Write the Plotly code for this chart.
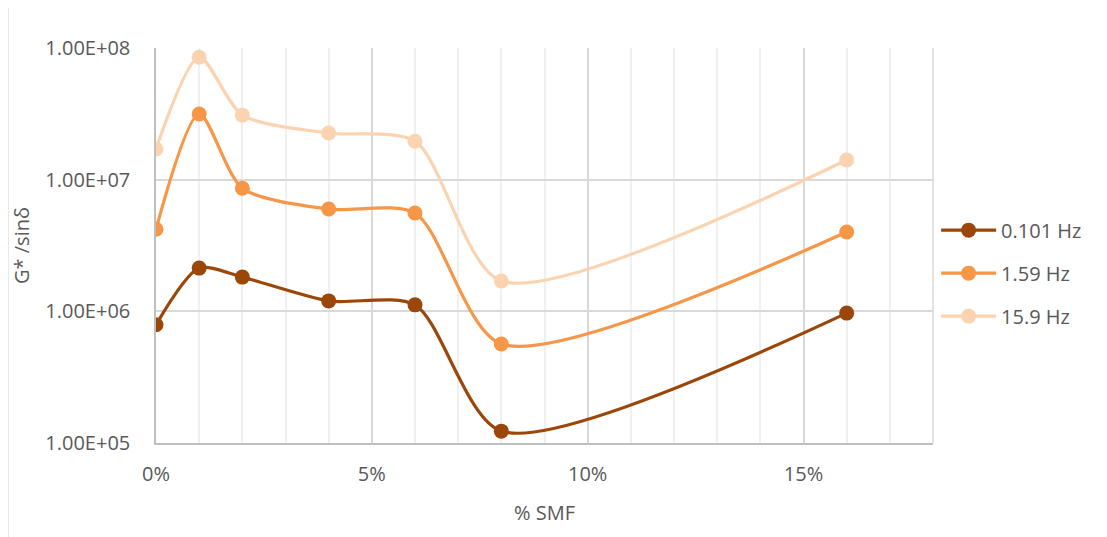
import plotly.graph_objects as go

smf = [0.00, 0.01, 0.02, 0.04, 0.06, 0.08, 0.16]
series_names = ["0.101 Hz", "1.59 Hz", "15.9 Hz"]
g_0101 = [7.9e5, 2.13e6, 1.82e6, 1.20e6, 1.12e6, 1.23e5, 9.7e5]
g_159 = [4.2e6, 3.15e7, 8.6e6, 5.98e6, 5.58e6, 5.65e5, 4.0e6]
g_159b = [1.71e7, 8.5e7, 3.09e7, 2.26e7, 1.96e7, 1.70e6, 1.41e7]
y_tickvals = [1e5, 1e6, 1e7, 1e8]
y_ticktext = ["1.00E+05", "1.00E+06", "1.00E+07", "1.00E+08"]
colors = ["#9A4709", "#F79646", "#FCD3B0"]

fig = go.Figure()
for name, vals, c in zip(series_names, [g_0101, g_159, g_159b], colors):
    fig.add_trace(go.Scatter(
        x=smf, y=vals, name=name, mode="lines+markers", legendgroup=name,
        line=dict(color=c, width=3.2, shape="spline", smoothing=0.75),
        marker=dict(color=c, size=15),
    ))

font_color = "#595959"
fam = "Open Sans, Liberation Sans, sans-serif"
fs = 20
fig.update_layout(
    width=1099, height=529,
    margin=dict(l=148, r=174, t=40, b=94),
    paper_bgcolor="white", plot_bgcolor="white",
    font=dict(family=fam, size=fs, color=font_color),
    showlegend=True,
    legend=dict(x=1.004, y=0.43, xanchor="left", yanchor="middle",
                font=dict(size=fs, color=font_color), itemwidth=55,
                traceorder="grouped", tracegroupgap=14),
    xaxis=dict(
        range=[0, 0.18], tickvals=[0, 0.05, 0.10, 0.15], tickformat=".0%",
        showgrid=True, gridcolor="#D9D9D9", gridwidth=1.5,
        minor=dict(dtick=0.01, tick0=0, showgrid=True, gridcolor="#F0F0F0", gridwidth=1.5),
        showline=True, linecolor="#BFBFBF", linewidth=1.5, mirror=False,
        zeroline=False, ticks="", ticklabelstandoff=12, automargin=False,
        tickfont=dict(size=fs, color=font_color),
        title=dict(text="% SMF", font=dict(size=fs, color=font_color), standoff=20),
    ),
    yaxis=dict(
        type="log", range=[5, 8], tickvals=y_tickvals, ticktext=y_ticktext,
        showgrid=True, gridcolor="#D9D9D9", gridwidth=1.5,
        showline=True, linecolor="#BFBFBF", linewidth=1.5,
        zeroline=False, ticks="", ticklabelstandoff=20, automargin=False,
        tickfont=dict(size=fs, color=font_color),
        title=dict(text="G* /sinδ", font=dict(size=fs, color=font_color), standoff=12),
    ),
    shapes=[
        dict(type="rect", xref="paper", yref="paper",
             x0=-148/777, x1=1.3, y0=-0.3, y1=1 + 43/395,
             line=dict(color="#D9D9D9", width=1.2), fillcolor="rgba(0,0,0,0)", layer="below"),
        dict(type="line", xref="paper", yref="paper", x0=1, x1=1, y0=0, y1=1,
             line=dict(color="#D9D9D9", width=1.5)),
    ],
)

fig.write_html("out.html")
